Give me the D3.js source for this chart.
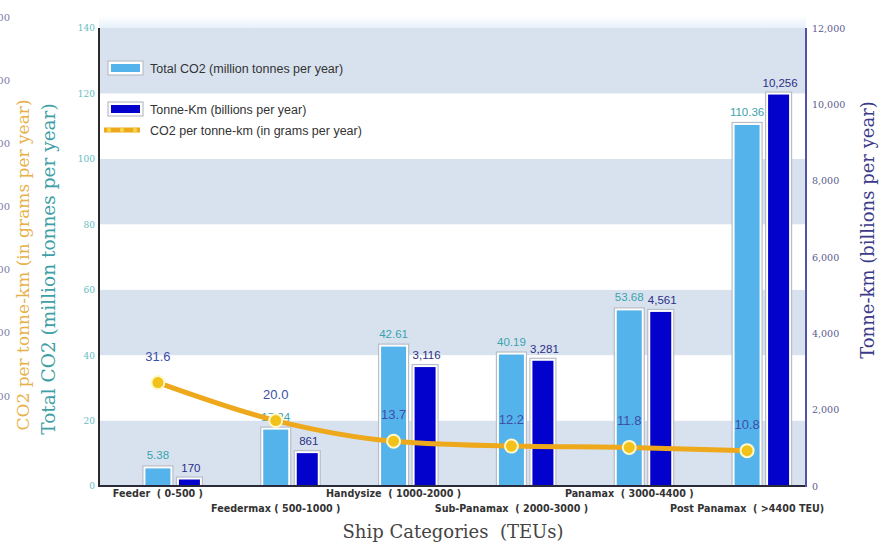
<!DOCTYPE html>
<html><head><meta charset="utf-8">
<script src="https://cdn.jsdelivr.net/npm/d3@7"></script>
<style>body{margin:0;background:#fff}svg{display:block}</style>
</head><body><svg id="c" width="888" height="547"></svg>
<script>
const categories = ["Feeder  ( 0-500 )","Feedermax ( 500-1000 )","Handysize  ( 1000-2000 )","Sub-Panamax  ( 2000-3000 )","Panamax  ( 3000-4400 )","Post Panamax  ( >4400 TEU)"];
const totalCO2 = [5.38, 17.24, 42.61, 40.19, 53.68, 110.36];
const totalCO2Labels = ["5.38","17.24","42.61","40.19","53.68","110.36"];
const tonneKm = [170, 861, 3116, 3281, 4561, 10256];
const co2PerTonneKm = [31.6, 20.0, 13.7, 12.2, 11.8, 10.8];
const leftTicks = [0,20,40,60,80,100,120,140];
const rightTicks = [0,2000,4000,6000,8000,10000,12000];
const farLeftTicks = [100,200,300,400,500,600,700];
const farLeftLabels = ["200","400","600","800","1,000","1,200","1,400"];

const svg = d3.select("#c");
const L=99, R=806, T=28, B=486;
const y = d3.scaleLinear([0,140],[B,T]);
const y2 = d3.scaleLinear([0,12000],[B,T]);
const y3 = d3.scaleLinear([0,700],[459,17]);
const x = d3.scaleBand(categories,[L,R]).padding(0);

// top gradient
const defs = svg.append("defs");
const g = defs.append("linearGradient").attr("id","tg").attr("x1",0).attr("y1",0).attr("x2",0).attr("y2",1);
g.append("stop").attr("offset",0).attr("stop-color","#ffffff");
g.append("stop").attr("offset",1).attr("stop-color","#e6f0fa");
svg.append("rect").attr("x",L).attr("y",T-12).attr("width",R-L).attr("height",12).attr("fill","url(#tg)");

// bands
for(let i=0;i<7;i++){
  const v0=i*20, v1=(i+1)*20;
  svg.append("rect").attr("x",L).attr("y",y(v1)).attr("width",R-L).attr("height",y(v0)-y(v1))
    .attr("fill", i%2===0 ? "#d8e2ef" : "#ffffff");
}

// bars
const bw = x.bandwidth();
function framedBar(x0,w,top,fill){
  svg.append("rect").attr("x",x0-2.5).attr("y",top-2.5).attr("width",w+5).attr("height",B-top+2.5)
    .attr("fill","#ffffff").attr("stroke","#b9bdc9").attr("stroke-width",1.2);
  svg.append("rect").attr("x",x0).attr("y",top).attr("width",w).attr("height",B-top).attr("fill",fill);
}
categories.forEach((c,i)=>{
  const cx = x(c)+bw/2;
  framedBar(cx-12.5, 25, y(totalCO2[i]), "#55b3ec");
  framedBar(cx+21, 21, y2(tonneKm[i]), "#0202cc");
});
// bar labels
categories.forEach((c,i)=>{
  const cx = x(c)+bw/2;
  svg.append("text").attr("x",cx).attr("y",y(totalCO2[i])-9).attr("text-anchor","middle")
    .attr("font-family","Liberation Sans, Arial, sans-serif").attr("font-size",11.5).attr("fill","#3aa3ad")
    .text(totalCO2Labels[i]);
  svg.append("text").attr("x",cx+33).attr("y",y2(tonneKm[i])-8).attr("text-anchor","middle")
    .attr("font-family","Liberation Sans, Arial, sans-serif").attr("font-size",11.5).attr("fill","#2b2f86")
    .text(d3.format(",")(tonneKm[i]));
});

// line
const pts = categories.map((c,i)=>[x(c)+bw/2, y(co2PerTonneKm[i])]);
svg.append("path").attr("d", d3.line().curve(d3.curveMonotoneX)(pts))
  .attr("fill","none").attr("stroke","#eda81c").attr("stroke-width",5).attr("stroke-linecap","round");
pts.forEach((p,i)=>{
  svg.append("circle").attr("cx",p[0]).attr("cy",p[1]).attr("r",6.5)
    .attr("fill","#f2c21a").attr("stroke","#fff8c8").attr("stroke-width",2);
  svg.append("text").attr("x",p[0]).attr("y",p[1]-22).attr("text-anchor","middle")
    .attr("font-family","Liberation Sans, Arial, sans-serif").attr("font-size",13).attr("fill","#3c4ea6")
    .text(co2PerTonneKm[i].toFixed(1));
});

// axes lines
svg.append("line").attr("x1",L).attr("x2",L).attr("y1",T).attr("y2",B+1).attr("stroke","#2a2a2a").attr("stroke-width",2);
svg.append("line").attr("x1",L-1).attr("x2",R).attr("y1",B).attr("y2",B).attr("stroke","#2a2a3a").attr("stroke-width",2);
svg.append("line").attr("x1",R).attr("x2",R).attr("y1",T).attr("y2",B+1).attr("stroke","#5252a6").attr("stroke-width",2);

// left axis ticks
const la = svg.append("g").attr("transform",`translate(${L},0)`)
  .call(d3.axisLeft(y).tickValues(leftTicks).tickSize(0).tickPadding(4));
la.select(".domain").remove();
la.selectAll("text").attr("font-family","DejaVu Serif, serif").attr("font-size",9).attr("fill","#66bcbf");
// right axis
const ra = svg.append("g").attr("transform",`translate(${R},0)`)
  .call(d3.axisRight(y2).tickValues(rightTicks).tickSize(0).tickPadding(6).tickFormat(d3.format(",")));
ra.select(".domain").remove();
ra.selectAll("text").attr("font-family","DejaVu Serif, serif").attr("font-size",9.5).attr("fill","#5a5a90");
// far-left axis (cut off at the image edge, as in the original)
const fa = svg.append("g").attr("transform","translate(10,0)")
  .call(d3.axisLeft(y3).tickValues(farLeftTicks).tickSize(0).tickPadding(0).tickFormat((d,i)=>farLeftLabels[i]));
fa.select(".domain").remove();
fa.selectAll("text").attr("font-family","DejaVu Serif, serif").attr("font-size",10).attr("fill","#7a78a8");

// x category labels
categories.forEach((c,i)=>{
  svg.append("text").attr("x",x(c)+bw/2).attr("y", i%2===0 ? 497 : 512).attr("text-anchor","middle")
    .attr("font-family","DejaVu Sans, Verdana, sans-serif").attr("font-weight","bold").attr("font-size",9.6)
    .attr("fill","#333").style("white-space","pre").text(c);
});

// titles
svg.append("text").attr("x",453).attr("y",538).attr("text-anchor","middle")
  .attr("font-family","DejaVu Serif, serif").attr("font-size",18).attr("fill","#444")
  .style("white-space","pre").text("Ship Categories  (TEUs)");
svg.append("text").attr("transform","translate(55,269) rotate(-90)").attr("text-anchor","middle")
  .attr("font-family","DejaVu Serif, serif").attr("font-size",18.5).attr("fill","#3f9fa6")
  .text("Total CO2 (million tonnes per year)");
svg.append("text").attr("transform","translate(29,265) rotate(-90)").attr("text-anchor","middle")
  .attr("font-family","DejaVu Serif, serif").attr("font-size",17).attr("fill","#e6b14a")
  .text("CO2 per tonne-km (in grams per year)");
svg.append("text").attr("transform","translate(874,230) rotate(-90)").attr("text-anchor","middle")
  .attr("font-family","DejaVu Serif, serif").attr("font-size",18).attr("fill","#3b3b8a")
  .text("Tonne-km (billions per year)");

// legend
const legend = [
  {label:"Total CO2 (million tonnes per year)", type:"bar", fill:"#55b3ec", y:68},
  {label:"Tonne-Km (billions per year)", type:"bar", fill:"#0202cc", y:109},
  {label:"CO2 per tonne-km (in grams per year)", type:"line", y:130}
];
legend.forEach(d=>{
  if(d.type==="bar"){
    svg.append("rect").attr("x",108).attr("y",d.y-7).attr("width",35).attr("height",14)
      .attr("fill","#fff").attr("stroke","#b9bdc9").attr("stroke-width",1.2);
    svg.append("rect").attr("x",111).attr("y",d.y-4).attr("width",29).attr("height",8).attr("fill",d.fill);
  } else {
    svg.append("line").attr("x1",104).attr("x2",140).attr("y1",d.y).attr("y2",d.y)
      .attr("stroke","#eda81c").attr("stroke-width",5);
    [109,122,135].forEach(cx=>svg.append("circle").attr("cx",cx).attr("cy",d.y).attr("r",2.2).attr("fill","#f7d24a"));
  }
  svg.append("text").attr("x",150).attr("y",d.y+4.5)
    .attr("font-family","Liberation Sans, Arial, sans-serif").attr("font-size",12.5).attr("fill","#333")
    .text(d.label);
});
</script></body></html>
